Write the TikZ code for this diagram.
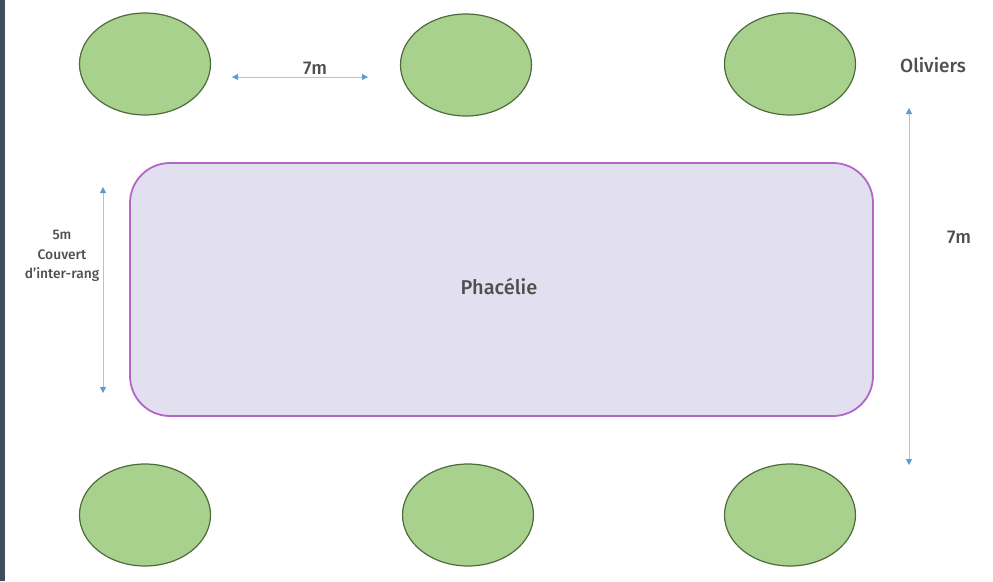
\documentclass[tikz,border=0pt]{standalone}
\usepackage{fontspec}
\setmainfont{Fira Sans}[UprightFont=* Medium]
\usepackage{tikz}
\usetikzlibrary{shapes.geometric, arrows.meta}
\definecolor{olivefill}{HTML}{A9D18E}
\definecolor{olivedraw}{HTML}{4F6B3C}
\definecolor{bandfill}{HTML}{E2DFF0}
\definecolor{banddraw}{HTML}{B565C8}
\definecolor{arrowline}{HTML}{A6C8E8}
\definecolor{arrowtip}{HTML}{5B9BD5}
\definecolor{labeltext}{HTML}{4F4F4F}
\definecolor{edgestrip}{HTML}{3E4F5B}
\tikzstyle{olive} = [ellipse, draw=olivedraw, fill=olivefill, line width=1.2pt, minimum width=131pt, minimum height=102pt, inner sep=0pt]
\tikzstyle{dim} = [draw=arrowline, line width=0.8pt, {Triangle[length=6pt,width=6pt,color=arrowtip]}-{Triangle[length=6pt,width=6pt,color=arrowtip]}]
\tikzstyle{label} = [text=labeltext, font=\fontsize{18.5pt}{20pt}\selectfont, align=center, inner sep=0pt]

\begin{document}
\begin{tikzpicture}[x=1pt, y=-1pt]
\useasboundingbox (0,0) rectangle (993,581);
\fill [edgestrip] (0,0) rectangle (5,581);

\node (olive top left) [olive] at (145,64) {};
\node (olive top mid) [olive] at (466,65) {};
\node (olive top right) [olive] at (790,64) {};
\node (olive bottom left) [olive] at (145,515) {};
\node (olive bottom mid) [olive] at (468,515) {};
\node (olive bottom right) [olive] at (790,515) {};

\node (phacelie) [rectangle, rounded corners=40pt, draw=banddraw, fill=bandfill, line width=1.8pt, minimum width=743pt, minimum height=253pt] at (501.5,289.5) {};
\node (phacelie name) [label, font=\fontsize{20pt}{22pt}\selectfont] at (499,286) {Phacélie};

\coordinate (row start) at (232,77);
\coordinate (row end) at (368,77);
\coordinate (band top) at (103,187);
\coordinate (band bottom) at (103,393);
\coordinate (span top) at (909,108);
\coordinate (span bottom) at (909,465);

\draw [dim] (row start) -- (row end);
\draw [dim] (band top) -- (band bottom);
\draw [dim] (span top) -- (span bottom);

\node (row gap) [label] at (315,68) {7m};
\node (band width) [label, font=\fontsize{13.8pt}{19.5pt}\selectfont] at (62,256) {5m\\Couvert\\d'inter-rang};
\node (span gap) [label] at (959,237) {7m};
\node (olive name) [label, font=\fontsize{19pt}{21pt}\selectfont] at (933,65) {Oliviers};

\end{tikzpicture}
\end{document}
